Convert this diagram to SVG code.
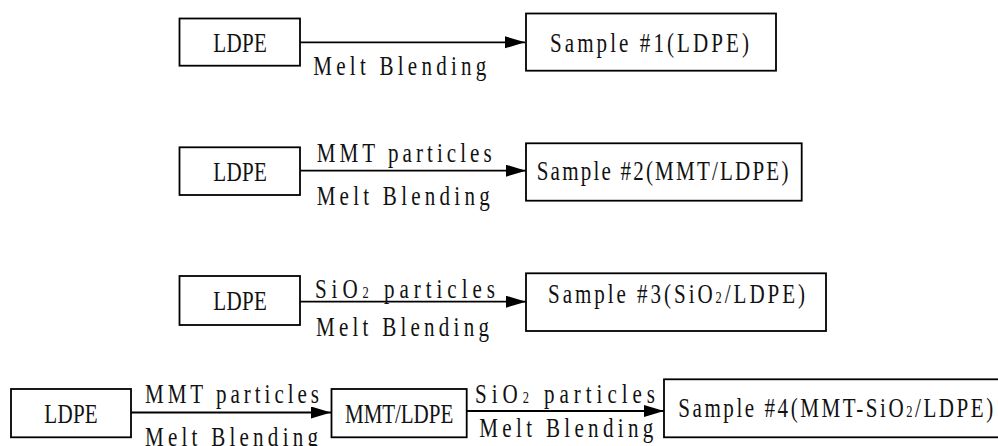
<svg xmlns="http://www.w3.org/2000/svg" width="998" height="446" viewBox="0 0 998 446">
<style>
rect.box{fill:#fff;stroke:#000;stroke-width:1.8}
text{font-family:"Liberation Serif","Times New Roman",serif;font-size:27px;fill:#111}
.sub{font-size:16px}
line.c{stroke:#000;stroke-width:1.8;marker-end:url(#ah)}
</style>
<defs>
<marker id="ah" markerUnits="userSpaceOnUse" markerWidth="22" markerHeight="14" refX="20" refY="6" orient="auto">
<path d="M0,0 L20,6 L0,12 Z" fill="#000"/>
</marker>
</defs>
<rect width="998" height="446" fill="#fff"/>
<g id="connectors">
<line class="c" x1="300" y1="42.3" x2="525" y2="42.3"/>
<line class="c" x1="300" y1="170.7" x2="526" y2="170.7"/>
<line class="c" x1="300" y1="301.7" x2="526" y2="301.7"/>
<line class="c" x1="131" y1="412.5" x2="331" y2="412.5"/>
<line class="c" x1="466.7" y1="411" x2="664" y2="411"/>
<text transform="scale(0.78,1)" x="401.7" y="75" textLength="221.8" lengthAdjust="spacing">Melt Blending</text>
<text transform="scale(0.78,1)" x="406" y="161.7" textLength="224.4" lengthAdjust="spacing">MMT particles</text>
<text transform="scale(0.78,1)" x="406" y="205" textLength="221.8" lengthAdjust="spacing">Melt Blending</text>
<text transform="scale(0.78,1)" x="403.8" y="298" textLength="230.8" lengthAdjust="spacing">SiO<tspan class="sub">2</tspan> particles</text>
<text transform="scale(0.78,1)" x="405.1" y="336" textLength="221.8" lengthAdjust="spacing">Melt Blending</text>
<text transform="scale(0.78,1)" x="185.9" y="403.3" textLength="223.1" lengthAdjust="spacing">MMT particles</text>
<text transform="scale(0.78,1)" x="185.9" y="446" textLength="221.8" lengthAdjust="spacing">Melt Blending</text>
<text transform="scale(0.78,1)" x="609" y="403.3" textLength="230.8" lengthAdjust="spacing">SiO<tspan class="sub">2</tspan> particles</text>
<text transform="scale(0.78,1)" x="614.5" y="437" textLength="223.1" lengthAdjust="spacing">Melt Blending</text>
</g>
<g id="ldpe1"><rect class="box" x="179.5" y="18.5" width="120.5" height="47.2"/><text transform="scale(0.78,1)" x="273.5" y="51.7" textLength="68.5" lengthAdjust="spacing">LDPE</text></g>
<g id="sample1"><rect class="box" x="526" y="13.5" width="250" height="57.2"/><text transform="scale(0.78,1)" x="705.1" y="51.7" textLength="255.1" lengthAdjust="spacing">Sample #1(LDPE)</text></g>
<g id="ldpe2"><rect class="box" x="179.5" y="147.3" width="120.5" height="47.7"/><text transform="scale(0.78,1)" x="273.5" y="180.7" textLength="68.5" lengthAdjust="spacing">LDPE</text></g>
<g id="sample2"><rect class="box" x="526" y="143.3" width="275.7" height="57.4"/><text transform="scale(0.78,1)" x="688.1" y="180" textLength="322.7" lengthAdjust="spacing">Sample #2(MMT/LDPE)</text></g>
<g id="ldpe3"><rect class="box" x="179.5" y="276" width="120.5" height="49"/><text transform="scale(0.78,1)" x="273.5" y="310" textLength="68.5" lengthAdjust="spacing">LDPE</text></g>
<g id="sample3"><rect class="box" x="526" y="273.3" width="300" height="57.7"/><text transform="scale(0.78,1)" x="702.6" y="303.3" textLength="329.5" lengthAdjust="spacing">Sample #3(SiO<tspan class="sub">2</tspan>/LDPE)</text></g>
<g id="ldpe4"><rect class="box" x="11" y="389" width="120" height="48.3"/><text transform="scale(0.78,1)" x="56.8" y="423" textLength="68.5" lengthAdjust="spacing">LDPE</text></g>
<g id="mmtldpe"><rect class="box" x="331.5" y="389" width="135.2" height="48.3"/><text transform="scale(0.78,1)" x="442.3" y="422.7" textLength="138.8" lengthAdjust="spacing">MMT/LDPE</text></g>
<g id="sample4"><rect class="box" x="664" y="379.3" width="340" height="58"/><text transform="scale(0.78,1)" x="869.6" y="416.7" textLength="403.8" lengthAdjust="spacing">Sample #4(MMT-SiO<tspan class="sub">2</tspan>/LDPE)</text></g>
</svg>
